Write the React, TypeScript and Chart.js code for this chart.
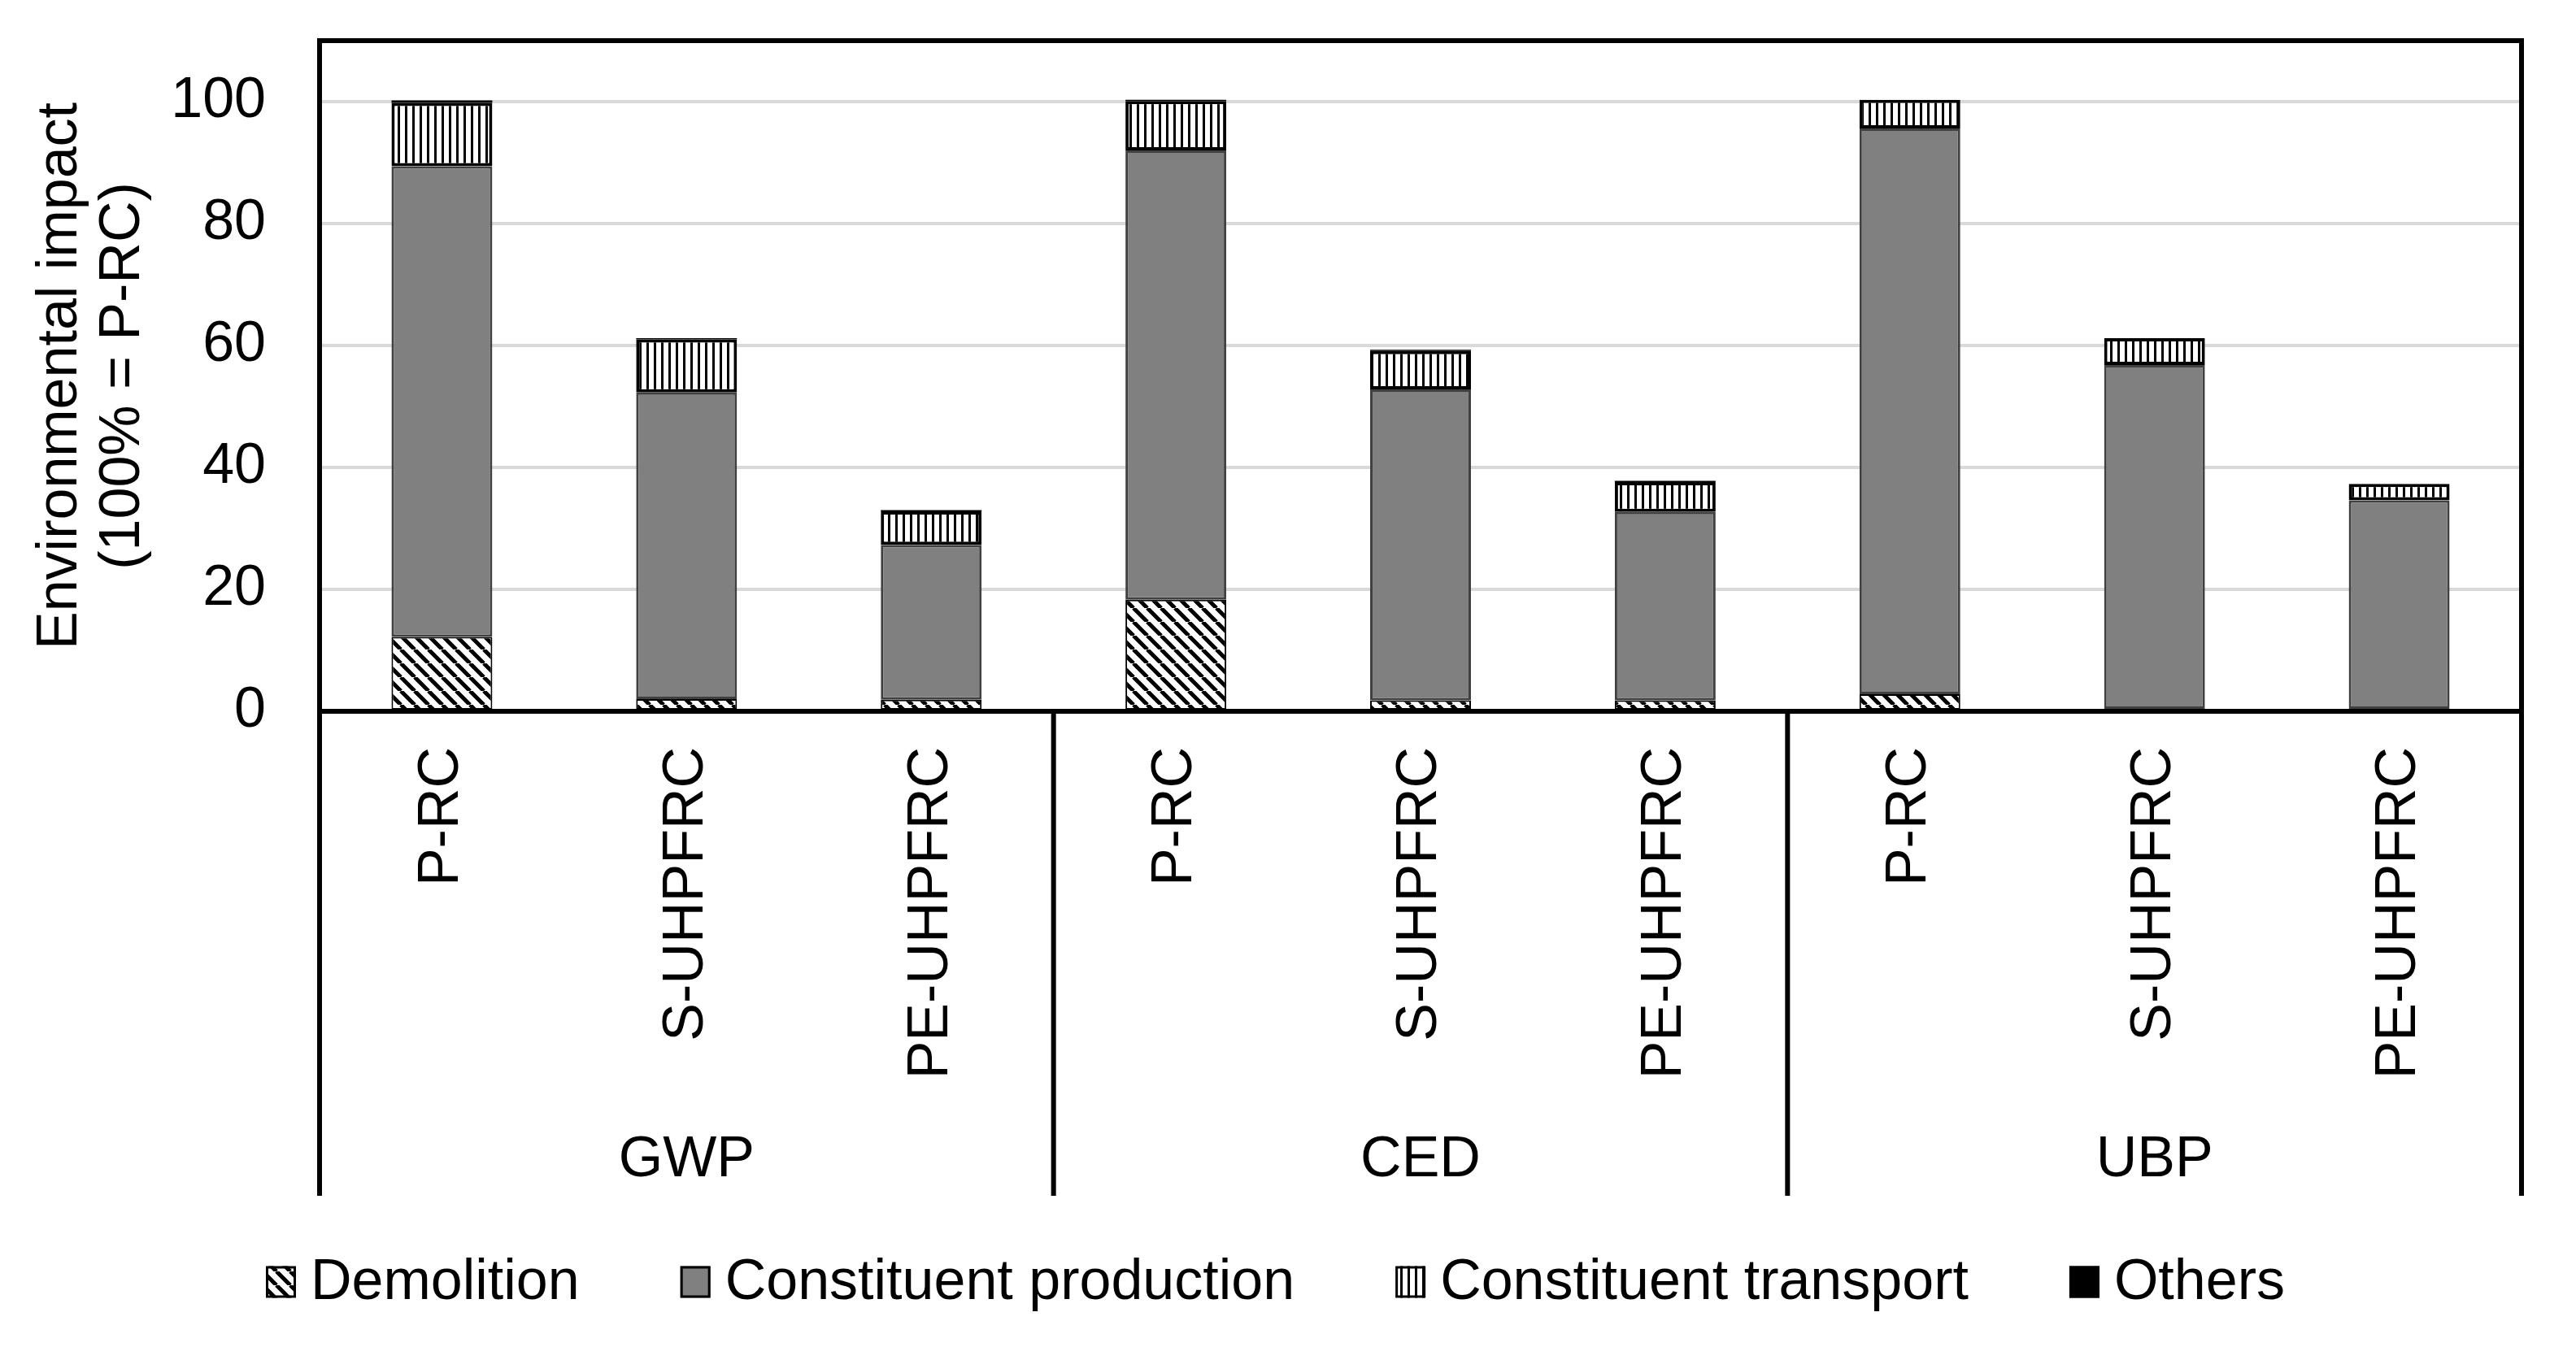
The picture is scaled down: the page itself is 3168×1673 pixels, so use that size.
import React, { useEffect, useRef } from "react";
import { Chart, registerables } from "chart.js";

Chart.register(...registerables);

const groups = ["GWP", "CED", "UBP"];
const categories = ["P-RC", "S-UHPFRC", "PE-UHPFRC"];
const seriesNames = ["Demolition", "Constituent production", "Constituent transport", "Others"];

const demolition = [12.2, 2.0, 1.9, 18.3, 1.8, 1.8, 2.8, 0.4, 0.4];
const production = [77.2, 50.3, 25.4, 73.7, 51.0, 30.9, 92.8, 56.4, 34.2];
const transport = [10.4, 8.7, 5.5, 8.1, 6.3, 4.9, 4.7, 4.4, 2.7];
const others = [0.4, 0.2, 0.2, 0.2, 0.2, 0.2, 0, 0, 0];

const yTitle = ["Environmental impact", "(100% = P-RC)"];
const yMin = 0;
const yMax = 110;
const yStep = 20;

const FONT = '"Liberation Sans", Arial, Helvetica, sans-serif';
const FONT_SIZE = 70;
const W = 3168;
const H = 1673;
const LOW_Y = 1471;

function makeDiagonalPattern(ctx: CanvasRenderingContext2D) {
  const T = 17;
  const c = document.createElement("canvas");
  c.width = T;
  c.height = T;
  const g = c.getContext("2d")!;
  g.fillStyle = "#fff";
  g.fillRect(0, 0, T, T);
  g.strokeStyle = "#000";
  g.lineWidth = 5;
  g.beginPath();
  for (let k = -1; k <= 1; k++) {
    g.moveTo(k * T, 0);
    g.lineTo(k * T + T, T);
  }
  g.stroke();
  return ctx.createPattern(c, "repeat")!;
}

function makeVerticalPattern(ctx: CanvasRenderingContext2D) {
  const T = 9;
  const c = document.createElement("canvas");
  c.width = T;
  c.height = T;
  const g = c.getContext("2d")!;
  g.fillStyle = "#fff";
  g.fillRect(0, 0, T, T);
  g.fillStyle = "#000";
  g.fillRect(3, 0, 3, T);
  return ctx.createPattern(c, "repeat")!;
}

const framePlugin = {
  id: "framePlugin",
  afterDraw(chart: any) {
    const { ctx, chartArea, scales } = chart;
    const { left, right, top, bottom } = chartArea;
    const x = scales.x;
    const n = categories.length;
    ctx.save();
    ctx.strokeStyle = "#000";
    ctx.lineWidth = 6;
    ctx.lineCap = "butt";
    ctx.beginPath();
    ctx.moveTo(left - 3, top);
    ctx.lineTo(right + 3, top);
    ctx.moveTo(left, top);
    ctx.lineTo(left, LOW_Y);
    ctx.moveTo(right, top);
    ctx.lineTo(right, LOW_Y);
    ctx.moveTo(left - 3, bottom);
    ctx.lineTo(right + 3, bottom);
    for (let g = 1; g < groups.length; g++) {
      const idx = g * n;
      const xs = (x.getPixelForValue(idx - 1) + x.getPixelForValue(idx)) / 2;
      ctx.moveTo(xs, bottom);
      ctx.lineTo(xs, LOW_Y);
    }
    ctx.stroke();

    // group labels
    ctx.fillStyle = "#000";
    ctx.font = `${FONT_SIZE}px ${FONT}`;
    ctx.textAlign = "center";
    ctx.textBaseline = "middle";
    groups.forEach((gName, g) => {
      const a = x.getPixelForValue(g * n);
      const b = x.getPixelForValue(g * n + n - 1);
      ctx.fillText(gName, (a + b) / 2, 1428);
    });

    // legend
    const boxW = 37;
    const boxH = 39;
    const cy = 1577;
    let cx = 327;
    ctx.textAlign = "left";
    chart.data.datasets.forEach((ds: any) => {
      ctx.fillStyle = ds.backgroundColor;
      ctx.fillRect(cx, cy - boxH / 2, boxW, boxH);
      ctx.lineWidth = 3;
      ctx.strokeStyle = "#000";
      ctx.strokeRect(cx + 1.5, cy - boxH / 2 + 1.5, boxW - 3, boxH - 3);
      ctx.fillStyle = "#000";
      const tx = cx + boxW + 18;
      ctx.fillText(ds.label, tx, cy + 2);
      cx = tx + ctx.measureText(ds.label).width + 124;
    });
    ctx.restore();
  },
};

export default function App() {
  const ref = useRef<HTMLCanvasElement | null>(null);

  useEffect(() => {
    document.body.style.margin = "0";
    const canvas = ref.current!;
    const ctx = canvas.getContext("2d")!;
    const diag = makeDiagonalPattern(ctx);
    const vert = makeVerticalPattern(ctx);

    const labels: string[] = [];
    groups.forEach(() => categories.forEach((c) => labels.push(c)));

    const chart = new Chart(ctx, {
      type: "bar",
      data: {
        labels,
        datasets: [
          {
            label: seriesNames[0],
            data: demolition,
            backgroundColor: diag as any,
            borderColor: "#000",
            borderWidth: 2,
            borderSkipped: false,
          },
          {
            label: seriesNames[1],
            data: production,
            backgroundColor: "#808080",
            borderColor: "#404040",
            borderWidth: 3,
            borderSkipped: false,
          },
          {
            label: seriesNames[2],
            data: transport,
            backgroundColor: vert as any,
            borderColor: "#000",
            borderWidth: 4,
            borderSkipped: false,
          },
          {
            label: seriesNames[3],
            data: others,
            backgroundColor: "#000",
            borderColor: "#000",
            borderWidth: 0,
            borderSkipped: false,
          },
        ],
      },
      options: {
        animation: false,
        responsive: false,
        devicePixelRatio: 1,
        datasets: {
          bar: { barPercentage: 0.412, categoryPercentage: 1 },
        },
        layout: { padding: { top: 50, right: 67, left: 0, bottom: 0 } },
        plugins: {
          legend: { display: false },
          tooltip: { enabled: false },
        },
        scales: {
          x: {
            stacked: true,
            grid: { display: false, drawTicks: false },
            border: { display: false },
            ticks: {
              autoSkip: false,
              minRotation: 90,
              maxRotation: 90,
              padding: 44,
              color: "#000",
              font: { family: FONT, size: FONT_SIZE },
            },
            afterFit(scale: any) {
              scale.height = H - 875;
              scale.paddingLeft = 0;
              scale.paddingRight = 0;
            },
          },
          y: {
            stacked: true,
            min: yMin,
            max: yMax,
            grid: { color: "#d9d9d9", lineWidth: 4, drawTicks: false },
            border: { display: false },
            ticks: {
              stepSize: yStep,
              includeBounds: false,
              padding: 66,
              color: "#000",
              font: { family: FONT, size: FONT_SIZE },
            },
            title: {
              display: true,
              text: yTitle,
              color: "#000",
              font: { family: FONT, size: FONT_SIZE, lineHeight: 1.1 },
              padding: { top: 36, bottom: 0 },
            },
            afterFit(scale: any) {
              scale.width = 393;
              scale.paddingTop = 0;
              scale.paddingBottom = 0;
            },
          },
        },
      },
      plugins: [framePlugin],
    });
    return () => chart.destroy();
  }, []);

  return (
    <div style={{ width: W, height: H }}>
      <canvas ref={ref} width={W} height={H} style={{ display: "block", width: W, height: H }} />
    </div>
  );
}
